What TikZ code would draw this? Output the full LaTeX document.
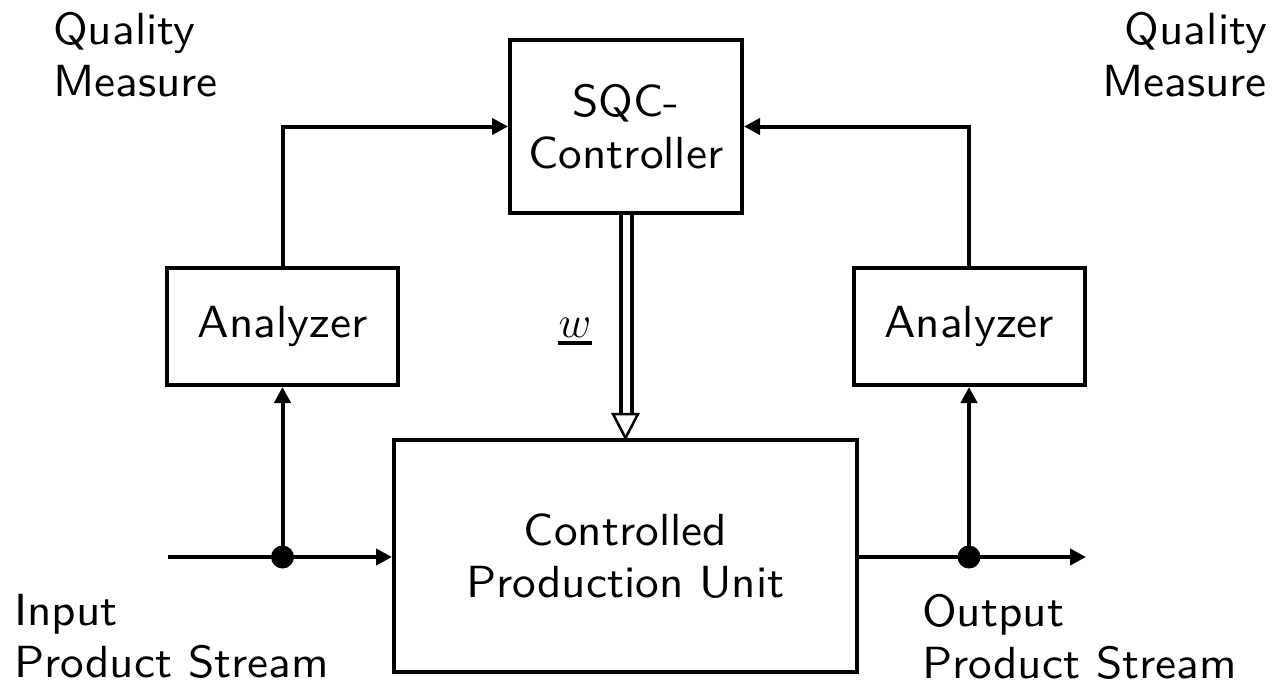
\RequirePackage{fix-cm}
\documentclass[tikz,border=0pt]{standalone}
\usepackage{fontspec}
\setsansfont{lmsans10-regular}[Extension=.otf, FakeStretch=1.05]
\usetikzlibrary{arrows.meta}
\newcommand{\lblfont}{\sffamily\fontsize{45}{52}\selectfont}
\tikzset{
  block/.style={draw, line width=4pt, inner sep=0pt, align=center, font=\lblfont},
  caption/.style={inner sep=0pt, font=\lblfont},
  flow/.style={line width=4pt, -{Triangle[length=16pt,width=16pt]}},
  junction/.style={circle, fill, inner sep=0pt, minimum size=23pt},
  rail/.style={line width=4pt},
  hollowtip/.style={line width=2.5pt, fill=white, line join=miter}
}
\begin{document}
\begin{tikzpicture}[x=1pt,y=-1pt]
\useasboundingbox (0,0) rectangle (1276,688);

% blocks
\node[block, minimum width=232pt, minimum height=173pt] (sqc) at (626,126.5) {SQC-\\Controller};
\node[block, minimum width=231pt, minimum height=117pt] (anL) at (282.5,326.5) {Analyzer};
\node[block, minimum width=231pt, minimum height=117pt] (anR) at (969,326.5) {Analyzer};
\node[block, minimum width=463pt, minimum height=232pt] (unit) at (625.5,556) {Controlled\\Production Unit};

% branch points and stream ends
\node[junction] (dotL) at (282.5,557) {};
\node[junction] (dotR) at (969,557) {};
\coordinate (inL) at (168,557);
\coordinate (outR) at (1086,557);

% product stream
\draw[flow] (inL) -- (unit.west |- inL);
\draw[flow] (unit.east |- outR) -- (outR);

% measurement paths
\draw[flow] (dotL.center) -- (anL.south);
\draw[flow] (dotR.center) -- (anR.south);
\draw[flow] (anL.north) |- (sqc.west);
\draw[flow] (anR.north) |- (sqc.east);

% control vector w (double rail with open head)
\coordinate (wtip) at (unit.north);
\coordinate (wbase) at ([yshift=24pt]wtip);
\draw[rail] ([xshift=-5.5pt]sqc.south) -- ([xshift=-5.5pt]sqc.south |- wbase);
\draw[rail] ([xshift=5.5pt]sqc.south) -- ([xshift=5.5pt]sqc.south |- wbase);
\draw[hollowtip] ([xshift=-12.5pt]wbase) -- ([xshift=12.5pt]wbase) -- (wtip) -- cycle;
\node[inner sep=0pt, anchor=base, font=\fontsize{45}{52}\selectfont] (w) at (575,337) {$w$};
\draw[line width=3.5pt] ([yshift=-6pt]w.base west) -- ([yshift=-6pt]w.base east);

% captions
\node[caption, anchor=north west, align=left] (qmL) at (53,12) {Quality\\Measure};
\node[caption, anchor=north east, align=right] (qmR) at (1267,12) {Quality\\Measure};
\node[caption, anchor=north west, align=left] (inTxt) at (14,594) {Input\\Product Stream};
\node[caption, anchor=north west, align=left] (outTxt) at (922,594) {Output\\Product Stream};
\end{tikzpicture}
\end{document}
